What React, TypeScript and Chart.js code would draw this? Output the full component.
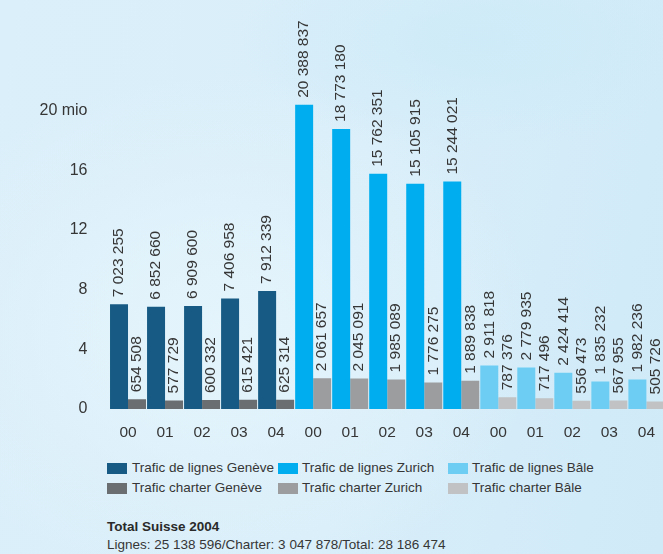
import React, { useEffect, useRef } from "react";
import { Chart, registerables } from "chart.js";

Chart.register(...registerables);

const categories = ["00", "01", "02", "03", "04", "00", "01", "02", "03", "04", "00", "01", "02", "03", "04"];
const lignesValues = [7023255, 6852660, 6909600, 7406958, 7912339, 20388837, 18773180, 15762351, 15105915, 15244021, 2911818, 2779935, 2424414, 1835232, 1982236];
const charterValues = [654508, 577729, 600332, 615421, 625314, 2061657, 2045091, 1985089, 1776275, 1889838, 787376, 717496, 556473, 567955, 505726];
const yTicks = [0, 4000000, 8000000, 12000000, 16000000, 20000000];
const lignesColors = ["#175b84", "#00aeef", "#6dcdf3"];
const charterColors = ["#6b6e70", "#9b9d9f", "#c0c2c3"];
const lignesLabels = ["Trafic de lignes Genève", "Trafic de lignes Zurich", "Trafic de lignes Bâle"];
const charterLabels = ["Trafic charter Genève", "Trafic charter Zurich", "Trafic charter Bâle"];
const totalTitle = "Total Suisse 2004";
const totalLine = "Lignes: 25 138 596/Charter: 3 047 878/Total: 28 186 474";

const FONT = "'Liberation Sans', Arial, Helvetica, sans-serif";
const TEXT = "#363636";

const fmt = (v: number) => String(v).replace(/\B(?=(\d{3})+(?!\d))/g, " ");

const valueLabels = {
  id: "valueLabels",
  afterDatasetsDraw(chart: any) {
    const ctx = chart.ctx;
    ctx.save();
    ctx.font = `15.5px ${FONT}`;
    ctx.fillStyle = TEXT;
    ctx.textAlign = "left";
    ctx.textBaseline = "middle";
    chart.data.datasets.forEach((ds: any, di: number) => {
      const meta = chart.getDatasetMeta(di);
      meta.data.forEach((el: any, i: number) => {
        ctx.save();
        ctx.translate(el.x, el.y - 7);
        ctx.rotate(-Math.PI / 2);
        ctx.fillText(fmt(ds.data[i]), 0, 0);
        ctx.restore();
      });
    });
    ctx.restore();
  },
};

export default function App() {
  const ref = useRef<HTMLCanvasElement>(null);

  useEffect(() => {
    if (!ref.current) return;
    const chart = new Chart(ref.current, {
      type: "bar",
      data: {
        labels: categories,
        datasets: [
          {
            label: "Lignes",
            data: lignesValues,
            backgroundColor: lignesValues.map((_, i) => lignesColors[Math.floor(i / 5)]),
            categoryPercentage: 0.972,
            barPercentage: 1,
          },
          {
            label: "Charter",
            data: charterValues,
            backgroundColor: charterValues.map((_, i) => charterColors[Math.floor(i / 5)]),
            categoryPercentage: 0.972,
            barPercentage: 1,
          },
        ],
      },
      options: {
        responsive: false,
        animation: false,
        layout: { padding: { top: 4, left: 0, right: 0, bottom: 0 } },
        plugins: { legend: { display: false }, tooltip: { enabled: false } },
        scales: {
          x: {
            grid: { display: false, drawTicks: false },
            border: { display: false },
            ticks: { font: { size: 15.5, family: FONT }, color: TEXT, padding: 14, maxRotation: 0, autoSkip: false },
            afterFit: (s: any) => { s.height = 36; },
          },
          y: {
            min: 0,
            max: 25300000,
            grid: { display: false, drawTicks: false },
            border: { display: false },
            afterBuildTicks: (s: any) => { s.ticks = yTicks.map((v) => ({ value: v })); },
            ticks: {
              font: { size: 16, family: FONT },
              color: TEXT,
              padding: 22,
              callback: (v: any) => (Number(v) === 20000000 ? "20 mio" : String(Number(v) / 1000000)),
            },
            afterFit: (s: any) => { s.width = 109.5; },
          },
        },
      },
      plugins: [valueLabels],
    });
    return () => chart.destroy();
  }, []);

  const sw = (color: string, x: number, y: number) => (
    <div style={{ position: "absolute", left: x, top: y, width: 20, height: 11, background: color }} />
  );
  const txt = (s: string, x: number, y: number) => (
    <div style={{ position: "absolute", left: x, top: y, fontSize: 13.5, lineHeight: "16px", color: TEXT, whiteSpace: "nowrap" }}>{s}</div>
  );
  const colsSw = [107, 278, 448];
  const colsTx = [132, 302, 472];

  return (
    <div
      style={{
        position: "fixed",
        left: 0,
        top: 0,
        width: 663,
        height: 554,
        overflow: "hidden",
        fontFamily: FONT,
        background:
          "radial-gradient(ellipse 240px 110px at 480px 40px, rgba(204,234,248,0.8), rgba(204,234,248,0) 100%), radial-gradient(ellipse 320px 260px at 220px 330px, rgba(230,245,252,0.9), rgba(230,245,252,0) 100%), linear-gradient(100deg, #dbeffa 0%, #d8eef9 55%, #d0eaf8 100%)",
      }}
    >
      <canvas ref={ref} width={669} height={445} style={{ position: "absolute", left: 0, top: 0, display: "block" }} />
      {sw(lignesColors[0], colsSw[0], 463)}
      {sw(lignesColors[1], colsSw[1], 463)}
      {sw(lignesColors[2], colsSw[2], 463)}
      {sw(charterColors[0], colsSw[0], 483)}
      {sw(charterColors[1], colsSw[1], 483)}
      {sw(charterColors[2], colsSw[2], 483)}
      {lignesLabels.map((l, i) => <React.Fragment key={l}>{txt(l, colsTx[i], 460)}</React.Fragment>)}
      {charterLabels.map((l, i) => <React.Fragment key={l}>{txt(l, colsTx[i], 480)}</React.Fragment>)}
      <div style={{ position: "absolute", left: 107, top: 519, fontSize: 13.5, lineHeight: "16px", fontWeight: "bold", color: "#2a2a2a" }}>{totalTitle}</div>
      <div style={{ position: "absolute", left: 107, top: 537, fontSize: 13.5, lineHeight: "16px", color: TEXT, whiteSpace: "nowrap" }}>{totalLine}</div>
    </div>
  );
}
